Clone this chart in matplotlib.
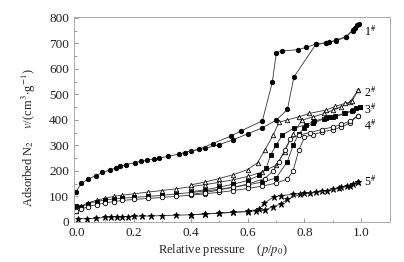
import numpy as np
import matplotlib.pyplot as plt
from matplotlib.ticker import MultipleLocator

plt.rcParams['font.family'] = ['Liberation Serif', 'DejaVu Serif']
plt.rcParams['mathtext.fontset'] = 'stix'

# sample 1# (filled circles)
p1_ads = [-0.003, 0.016, 0.04, 0.066, 0.09, 0.118, 0.139, 0.151, 0.174, 0.203, 0.227, 0.247,
          0.27, 0.29, 0.32, 0.36, 0.4, 0.45, 0.5, 0.55, 0.6, 0.65, 0.7, 0.74, 0.763, 0.84,
          0.875, 0.911, 0.945, 0.97, 0.986]
v1_ads = [118, 151, 168, 181, 194, 204, 213, 218, 225, 232, 238, 243,
          246, 250, 257, 266, 278, 288, 303, 322, 345, 368, 398, 441, 568, 696,
          700, 710, 724, 750, 771]
p1_des = [0.99, 0.979, 0.97, 0.945, 0.911, 0.885, 0.875, 0.84, 0.806, 0.777, 0.72, 0.701,
          0.687, 0.652, 0.576, 0.541, 0.477, 0.43, 0.38]
v1_des = [775, 761, 752, 726, 712, 704, 702, 697, 684, 675, 670, 662,
          548, 396, 356, 336, 307, 285, 272]

# sample 2# (open triangles)
p2_ads = [-0.003, 0.016, 0.04, 0.07, 0.1, 0.13, 0.16, 0.2, 0.25, 0.3, 0.35, 0.4, 0.45, 0.5,
          0.55, 0.6, 0.65, 0.7, 0.73, 0.76, 0.79, 0.83, 0.87, 0.9, 0.93, 0.96, 0.988]
v2_ads = [42, 62, 75, 85, 93, 100, 105, 110, 117, 123, 130, 138, 146, 155,
          165, 178, 195, 222, 275, 345, 398, 412, 425, 438, 452, 470, 516]
p2_des = [0.988, 0.967, 0.944, 0.909, 0.874, 0.816, 0.78, 0.74, 0.71, 0.69, 0.66, 0.635,
          0.6, 0.55, 0.5, 0.45, 0.4]
v2_des = [516, 472, 465, 453, 438, 425, 412, 400, 390, 340, 280, 232,
          205, 185, 170, 156, 145]

# sample 3# (filled squares)
p3_ads = [-0.003, 0.016, 0.04, 0.07, 0.1, 0.13, 0.16, 0.2, 0.25, 0.3, 0.35, 0.4, 0.45, 0.5,
          0.55, 0.6, 0.65, 0.7, 0.74, 0.76, 0.78, 0.8, 0.83, 0.87, 0.9, 0.94, 0.97, 0.996]
v3_ads = [62, 58, 72, 80, 86, 90, 93, 96, 100, 104, 110, 115, 121, 128,
          136, 145, 156, 172, 236, 300, 345, 368, 386, 405, 413, 425, 437, 450]
p3_des = [0.996, 0.98, 0.967, 0.944, 0.909, 0.885, 0.874, 0.833, 0.804, 0.763, 0.722, 0.7,
          0.681, 0.665, 0.64, 0.6, 0.55, 0.5, 0.45, 0.4]
v3_des = [450, 446, 435, 425, 414, 410, 408, 394, 380, 368, 340, 300,
          262, 210, 182, 162, 148, 136, 126, 118]

# sample 4# (open circles)
p4_ads = [-0.003, 0.016, 0.04, 0.07, 0.1, 0.13, 0.16, 0.2, 0.25, 0.3, 0.35, 0.4, 0.45, 0.5,
          0.55, 0.6, 0.65, 0.7, 0.74, 0.76, 0.78, 0.8, 0.83, 0.86, 0.9, 0.93, 0.96, 0.988]
v4_ads = [42, 50, 60, 68, 74, 80, 84, 88, 92, 96, 100, 105, 110, 116,
          123, 131, 140, 152, 168, 200, 280, 332, 342, 352, 362, 372, 388, 417]
p4_des = [0.988, 0.96, 0.93, 0.9, 0.86, 0.82, 0.78, 0.75, 0.73, 0.71, 0.69, 0.66,
          0.6, 0.55, 0.5, 0.45, 0.4]
v4_des = [417, 395, 382, 372, 362, 350, 340, 325, 280, 235, 200, 170,
          148, 136, 125, 115, 108]

# sample 5# (stars)
p5_ads = [0.005, 0.037, 0.066, 0.1, 0.12, 0.14, 0.16, 0.18, 0.2, 0.23, 0.26, 0.3, 0.35, 0.4,
          0.45, 0.5, 0.55, 0.6, 0.63, 0.66, 0.69, 0.716, 0.74, 0.786, 0.82, 0.86, 0.9,
          0.93, 0.96, 0.988]
v5_ads = [12, 13, 14, 18, 20, 20, 21, 21, 22, 23, 23, 25, 26, 28,
          31, 34, 37, 40, 44, 46, 60, 70, 89, 109, 113, 120, 128,
          135, 142, 157]
p5_des = [0.988, 0.97, 0.95, 0.92, 0.88, 0.84, 0.8, 0.76, 0.716, 0.693, 0.658, 0.64,
          0.6, 0.55, 0.5, 0.45, 0.4]
v5_des = [157, 147, 140, 132, 122, 116, 112, 108, 103, 99, 73, 50,
          42, 38, 35, 31, 28]

labels = ['1$^{\\#}$', '2$^{\\#}$', '3$^{\\#}$', '4$^{\\#}$', '5$^{\\#}$']
label_v = [744, 505, 440, 376, 157]

fig = plt.figure(figsize=(4.04, 2.62), dpi=100)
ax = fig.add_axes([0.183, 0.153, 0.782, 0.784])

series = [
    (p1_ads, v1_ads, p1_des, v1_des, 'o', 'k'),
    (p2_ads, v2_ads, p2_des, v2_des, '^', 'white'),
    (p3_ads, v3_ads, p3_des, v3_des, 's', 'k'),
    (p4_ads, v4_ads, p4_des, v4_des, 'o', 'white'),
    (p5_ads, v5_ads, p5_des, v5_des, '*', 'k'),
]
for pa, va, pd, vd, m, fc in series:
    ms = 4.5 if m == '*' else 3.2
    for px, vy in [(pa, va), (pd, vd)]:
        ax.plot(px, vy, color='#333333', lw=0.6, marker=m, ms=ms,
                mfc=fc, mec='k', mew=0.6)

for lab, lv in zip(labels, label_v):
    ax.text(1.008, lv, lab, fontsize=8.5, va='center', ha='left')

ax.set_xlim(-0.01, 1.1)
ax.set_ylim(0, 805)
ax.xaxis.set_major_locator(MultipleLocator(0.2))
ax.xaxis.set_minor_locator(MultipleLocator(0.1))
ax.yaxis.set_major_locator(MultipleLocator(100))
ax.yaxis.set_minor_locator(MultipleLocator(50))
ax.set_xticks([0.0, 0.2, 0.4, 0.6, 0.8, 1.0])
ax.set_xticklabels(['0.0', '0.2', '0.4', '0.6', '0.8', '1.0'])
ax.tick_params(which='both', direction='in', colors='#888888', labelcolor='#222222',
               labelsize=9.5, width=0.6)
ax.tick_params(which='major', length=3)
ax.tick_params(which='minor', length=1.8)
for s in ax.spines.values():
    s.set_color('#aaaaaa')
    s.set_linewidth(0.7)

ax.set_xlabel('Relative pressure    ($p$/$p_0$)', fontsize=9, color='#222222')
ax.xaxis.set_label_coords(0.47, -0.1)
ax.set_ylabel('Adsorbed N$_2$    $v$/(cm$^3$$\\cdot$g$^{-1}$)', fontsize=9, color='#222222')
ax.yaxis.set_label_coords(-0.115, 0.41)

fig.savefig('out.png', dpi=100)
